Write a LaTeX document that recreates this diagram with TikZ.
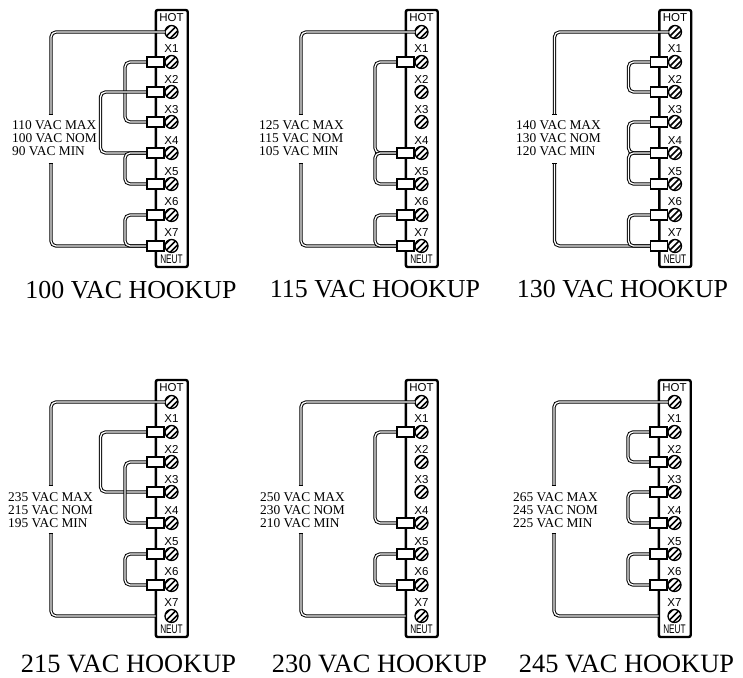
\documentclass[tikz,border=0pt]{standalone}
\usepackage{fontspec}
\usepackage{graphicx}
\setmainfont{Liberation Serif}
\setsansfont{Liberation Sans}
\begin{document}
\begin{tikzpicture}[x=1pt,y=-1pt,
  wire/.style={line width=1pt,double=white,double distance=1.3pt,rounded corners=5pt},
  wirecap/.style={line width=1pt,line cap=butt},
  lug/.style={draw=black,line width=1.1pt,fill=white,minimum width=17pt,minimum height=10pt,inner sep=0pt,outer sep=0pt},
  screw/.style={circle,draw=black,line width=1.3pt,fill=white,minimum size=13pt,inner sep=0pt,outer sep=0pt,path picture={
    \draw[line width=1.5pt] ([shift={(-8,0)}]path picture bounding box.center) -- ++(8,-8);
    \draw[line width=1.5pt] ([shift={(-6,5)}]path picture bounding box.center) -- ++(11,-11);
    \draw[line width=1.5pt] ([shift={(-2,7)}]path picture bounding box.center) -- ++(10,-10);}},
  termlabel/.style={font=\sffamily\fontsize{11.5}{12}\selectfont,inner sep=0pt},
  neutlabel/.style={font=\sffamily\fontsize{12.5}{13}\selectfont,inner sep=0pt},
  volt/.style={font=\fontsize{13.4}{13}\selectfont,anchor=west,inner sep=0pt},
  caption/.style={font=\fontsize{25.9}{26}\selectfont,inner sep=0pt},
  captionlow/.style={font=\fontsize{26.4}{26}\selectfont,inner sep=0pt},
  strip/.style={draw=black,line width=2.4pt,rounded corners=2pt,fill=white}]
\useasboundingbox (0,0) rectangle (743,677);
\newcommand{\tblock}[3]{% prefix, x offset, y offset
  \begin{scope}[shift={(#2,#3)}]
    \draw[strip] (155.8,10) rectangle (187.7,267);
    \node[termlabel] (#1hotl) at (171.5,18) {HOT};
    \node[screw] (#1hot) at (171.5,32) {};
    \foreach \n/\ly/\sy in {1/49/62,2/79.5/92,3/110/122,4/141/153,5/171.5/184,6/202/215,7/233/246}{
      \node[termlabel] at (171.5,\ly) {X\n};
      \node[screw] (#1x\n) at (171.5,\sy) {};
      \coordinate (#1c\n) at (155.5,\sy);
    }
    \node[neutlabel] (#1neut) at (171.5,259.5) {\scalebox{0.66}[1]{NEUT}};
  \end{scope}
}
\newcommand{\bridge}[4]{% prefix, from, to, distance
  \draw[wire] (#1c#2) -- ++(-#4,0) |- (#1c#3);
}
\newcommand{\lugs}[2]{\foreach \k in {#2}{\node[lug] (#1l\k) at (#1c\k) {};}}
\newcommand{\volts}[6]{% prefix, x, y, lines
  \node[volt] (#1vmax) at (#2,#3) {#4};
  \node[volt] (#1vnom) at (#2,#3+13) {#5};
  \node[volt] (#1vmin) at (#2,#3+26) {#6};
}
\newcommand{\feed}[4]{% prefix, x of the drops, upper end y, lower end y
  \coordinate (#1top) at (#2,#3);
  \coordinate (#1end) at (#2,#4);
  \draw[wire] (#1hot.west) -| (#1top);
  \draw[wire] (#1c7) -| (#1end);
  \draw[wirecap] ([xshift=-2.3pt]#1top) -- ([xshift=2.3pt]#1top);
  \draw[wirecap] ([xshift=-2.3pt]#1end) -- ([xshift=2.3pt]#1end);
}
% ---- panel A
\tblock{a}{0}{0}
\feed{a}{51}{114}{163}
\bridge{a}{1}{3}{30.5}
\bridge{a}{2}{4}{55}
\bridge{a}{4}{5}{30.5}
\bridge{a}{6}{7}{30.5}
\lugs{a}{1,2,3,4,5,6,7}
\volts{a}{12}{125}{110 VAC MAX}{100 VAC NOM}{90 VAC MIN}
\node[caption] (acap) at (131,290) {100 VAC HOOKUP};
% ---- panel B
\tblock{b}{250}{0}
\feed{b}{301}{114}{163}
\bridge{b}{1}{4}{30.5}
\bridge{b}{4}{5}{30.5}
\bridge{b}{6}{7}{30.5}
\lugs{b}{1,4,5,6,7}
\volts{b}{259}{125}{125 VAC MAX}{115 VAC NOM}{105 VAC MIN}
\node[caption] (bcap) at (375,289) {115 VAC HOOKUP};
% ---- panel C
\tblock{c}{503.5}{0}
\feed{c}{554.5}{114}{163}
\bridge{c}{1}{2}{30.5}
\bridge{c}{3}{4}{30.5}
\bridge{c}{4}{5}{30.5}
\bridge{c}{6}{7}{30.5}
\lugs{c}{1,2,3,4,5,6,7}
\volts{c}{516}{125}{140 VAC MAX}{130 VAC NOM}{120 VAC MIN}
\node[caption] (ccap) at (622.5,289) {130 VAC HOOKUP};
% ---- panel D
\tblock{d}{0}{370}
\feed{d}{51}{485}{533}
\bridge{d}{1}{3}{55}
\bridge{d}{2}{4}{30.5}
\bridge{d}{5}{6}{30.5}
\lugs{d}{1,2,3,4,5,6}
\volts{d}{8}{497}{235 VAC MAX}{215 VAC NOM}{195 VAC MIN}
\node[captionlow] (dcap) at (128.5,664) {215 VAC HOOKUP};
% ---- panel E
\tblock{e}{250}{370}
\feed{e}{301}{485}{533}
\bridge{e}{1}{4}{30.5}
\bridge{e}{5}{6}{30.5}
\lugs{e}{1,4,5,6}
\volts{e}{260}{497}{250 VAC MAX}{230 VAC NOM}{210 VAC MIN}
\node[captionlow] (ecap) at (379.5,664) {230 VAC HOOKUP};
% ---- panel F
\tblock{f}{503}{370}
\feed{f}{554}{485}{533}
\bridge{f}{1}{2}{30.5}
\bridge{f}{3}{4}{30.5}
\bridge{f}{5}{6}{30.5}
\lugs{f}{1,2,3,4,5,6}
\volts{f}{513}{497}{265 VAC MAX}{245 VAC NOM}{225 VAC MIN}
\node[captionlow] (fcap) at (626.5,664) {245 VAC HOOKUP};
\end{tikzpicture}
\end{document}
